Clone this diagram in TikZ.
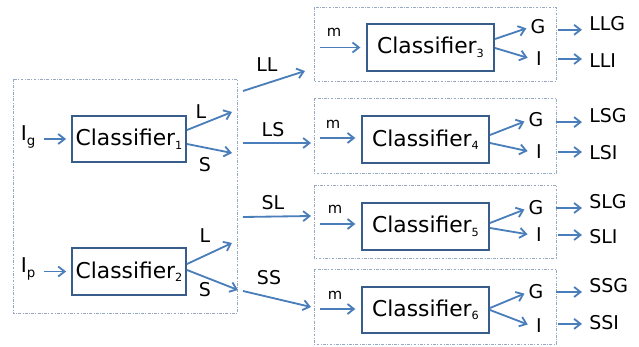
\documentclass[tikz,border=0pt]{standalone}
\usepackage{fontspec}
\setmainfont{DejaVu Sans}
\usetikzlibrary{arrows.meta}

\definecolor{arrowblue}{HTML}{4A7EBB}
\definecolor{boxblue}{HTML}{385D8A}
\definecolor{framegray}{HTML}{97A9C2}

% classifier name with its small index
\newcommand{\clsfr}[1]{Classifier\raisebox{-2.5pt}{\fontsize{8}{9}\selectfont #1}}

\tikzset{
  clsbox/.style={draw=boxblue, line width=1.4pt, minimum height=1.17cm, inner sep=0pt,
    font=\fontsize{15.5}{18}\selectfont},
  grpframe/.style={draw=framegray, line width=0.6pt, dash pattern=on 2pt off 1pt on 0.6pt off 1pt},
  flow/.style={draw=arrowblue, line width=1.3pt, -{Straight Barb[length=1.6mm,width=2.5mm]}},
  lbl/.style={font=\fontsize{13.5}{15}\selectfont, inner sep=0pt},
  gi/.style={lbl, minimum width=0.35cm},
  tag/.style={font=\fontsize{10.5}{12}\selectfont, inner sep=0pt}
}

\begin{document}
\begin{tikzpicture}[x=0.025cm,y=-0.025cm]
\useasboundingbox (0,0) rectangle (639,347);

% group frames
\draw[grpframe] (13,79) rectangle (237,313);
\draw[grpframe] (314,7) rectangle (556,81);
\draw[grpframe] (314,98) rectangle (556,173);
\draw[grpframe] (314,185) rectangle (556,258);
\draw[grpframe] (314,269) rectangle (556,344);

% first stage
\node[clsbox, minimum width=2.85cm] (cls1) at (129,139) {\clsfr{1}};
\node[clsbox, minimum width=2.85cm] (cls2) at (129,271.5) {\clsfr{2}};
\node[lbl] (ig) at (28,137) {{\fontsize{14.5}{16}\selectfont I}\raisebox{-3pt}{\fontsize{9.5}{10}\selectfont g}};
\node[lbl] (ip) at (28,269) {{\fontsize{14.5}{16}\selectfont I}\raisebox{-3pt}{\fontsize{9.5}{10}\selectfont p}};
\draw[flow, shorten <=6pt, shorten >=3.5pt] (cls1.west -| ig.east) -- (cls1.west);
\draw[flow, shorten <=6pt, shorten >=3.5pt] (cls2.west -| ip.east) -- (cls2.west);

\coordinate (l1) at (232,112);
\coordinate (s1) at (232,153);
\coordinate (l2) at (232,243);
\coordinate (s2) at (238,290);
\draw[flow] (cls1.east) ++(0,-9) -- (l1);
\draw[flow] (cls1.east) ++(0,5) -- (s1);
\draw[flow] (cls2.east) ++(0,-7.5) -- (l2);
\draw[flow] (cls2.east) ++(0,-1.5) -- (s2);
\node[lbl] (l1t) at (201,112) {L};
\node[lbl] (s1t) at (205,165) {S};
\node[lbl] (l2t) at (205,236) {L};
\node[lbl] (s2t) at (205,290) {S};

% links to the second stage
\coordinate (llA) at (243,91);  \coordinate (llB) at (305,71);
\coordinate (lsA) at (243,143); \coordinate (lsB) at (311,143);
\coordinate (slA) at (243,217); \coordinate (slB) at (311,216);
\coordinate (ssA) at (243,291); \coordinate (ssB) at (311,307);
\draw[flow] (llA) -- (llB);
\draw[flow] (lsA) -- (lsB);
\draw[flow] (slA) -- (slB);
\draw[flow] (ssA) -- (ssB);
\node[lbl] (llt) at (267,65) {LL};
\node[lbl] (lst) at (273,130) {LS};
\node[lbl] (slt) at (273,203) {SL};
\node[lbl] (sst) at (269,278) {SS};

% second stage
\node[clsbox, minimum width=3.175cm] (cls3) at (430.5,47.5) {\clsfr{3}};
\node[clsbox, minimum width=3.175cm] (cls4) at (425.5,139.5) {\clsfr{4}};
\node[clsbox, minimum width=3.175cm] (cls5) at (425.5,226.5) {\clsfr{5}};
\node[clsbox, minimum width=3.175cm] (cls6) at (425.5,310) {\clsfr{6}};

\coordinate (in3) at (320,47.5);
\coordinate (in4) at (320,138);
\coordinate (in5) at (320,224);
\coordinate (in6) at (320,309);
\draw[flow, shorten >=4pt] (in3) -- (in3 -| cls3.west);
\draw[flow, shorten >=4pt] (in4) -- (in4 -| cls4.west);
\draw[flow, shorten >=4pt] (in5) -- (in5 -| cls5.west);
\draw[flow, shorten >=4pt] (in6) -- (in6 -| cls6.west);
\node[tag] (m3) at (334,32) {m};
\node[tag] (m4) at (333,124) {m};
\node[tag] (m5) at (335,209) {m};
\node[tag] (m6) at (335,295) {m};

\node[gi] (g3) at (538,27) {G};
\node[gi] (i3) at (539,59) {I};
\node[gi] (g4) at (536,120) {G};
\node[gi] (i4) at (539,152) {I};
\node[gi] (g5) at (536,208) {G};
\node[gi] (i5) at (539,235) {I};
\node[gi] (g6) at (536,292) {G};
\node[gi] (i6) at (539,326) {I};
\draw[flow, shorten >=3pt] (cls3.east) ++(0,-8.5) -- (g3.west);
\draw[flow, shorten >=3pt] (cls3.east) ++(0,0.5) -- (i3.west);
\draw[flow, shorten >=3pt] (cls4.east) ++(0,-4.5) -- (g4.west);
\draw[flow, shorten >=3pt] (cls4.east) ++(0,3.5) -- (i4.west);
\draw[flow, shorten >=3pt] (cls5.east) ++(0,-3.5) -- (g5.west);
\draw[flow, shorten >=3pt] (cls5.east) ++(0,1.5) -- (i5.west);
\draw[flow, shorten >=3pt] (cls6.east) ++(0,-2) -- (g6.west);
\draw[flow, shorten >=3pt] (cls6.east) ++(0,0) -- (i6.west);

% final outputs
\node[lbl, anchor=west] (llg) at (589,24) {LLG};
\node[lbl, anchor=west] (lli) at (589,61) {LLI};
\node[lbl, anchor=west] (lsg) at (589,116) {LSG};
\node[lbl, anchor=west] (lsi) at (589,153) {LSI};
\node[lbl, anchor=west] (slg) at (589,202) {SLG};
\node[lbl, anchor=west] (sli) at (589,237) {SLI};
\node[lbl, anchor=west] (ssg) at (589,286) {SSG};
\node[lbl, anchor=west] (ssi) at (589,323) {SSI};
\draw[flow, shorten <=8.5pt, shorten >=5pt] ([yshift=-2pt]g3.east) -- ([yshift=-2pt]g3.east -| llg.west);
\draw[flow, shorten <=8.5pt, shorten >=5pt] (i3.east) -- (i3.east -| lli.west);
\draw[flow, shorten <=8.5pt, shorten >=5pt] ([yshift=-1.5pt]g4.east) -- ([yshift=-1.5pt]g4.east -| lsg.west);
\draw[flow, shorten <=8.5pt, shorten >=5pt] (i4.east) -- (i4.east -| lsi.west);
\draw[flow, shorten <=8.5pt, shorten >=5pt] (g5.east) -- (g5.east -| slg.west);
\draw[flow, shorten <=8.5pt, shorten >=5pt] (i5.east) -- (i5.east -| sli.west);
\draw[flow, shorten <=8.5pt, shorten >=5pt] (g6.east) -- (g6.east -| ssg.west);
\draw[flow, shorten <=8.5pt, shorten >=5pt] ([yshift=1.5pt]i6.east) -- ([yshift=1.5pt]i6.east -| ssi.west);
\end{tikzpicture}
\end{document}
